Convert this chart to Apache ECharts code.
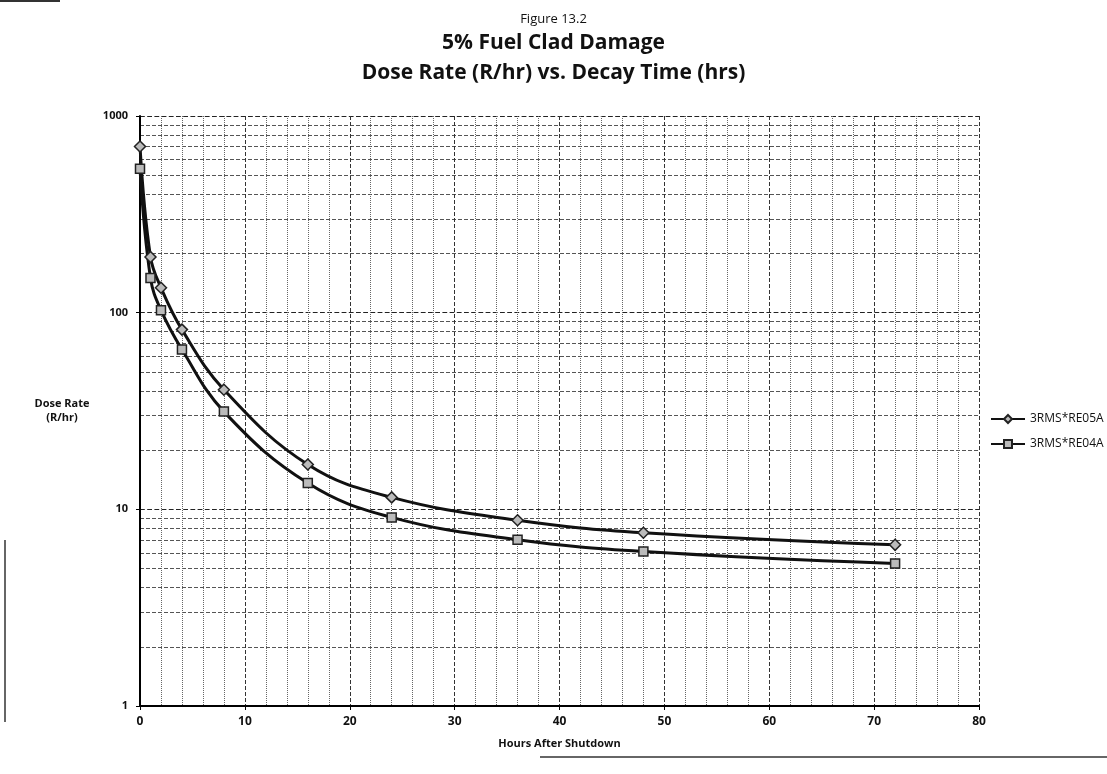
<!DOCTYPE html>
<html>
<head>
<meta charset="utf-8">
<title>Figure 13.2</title>
<script src="https://cdn.jsdelivr.net/npm/echarts@6/dist/echarts.min.js"></script>
<style>
  html, body { margin: 0; padding: 0; background: #fff; }
  #box { width: 1107px; height: 774px; }
</style>
</head>
<body>
<div id="box"></div>
<script>
// hours after shutdown
var hours = [0, 1, 2, 4, 8, 16, 24, 36, 48, 72];
// dose rate (R/hr)
var re05a = [700, 192, 134, 82, 40.6, 16.9, 11.5, 8.8, 7.6, 6.6];
var re04a = [540, 150, 103, 65, 31.4, 13.6, 9.1, 7.0, 6.1, 5.3];
var xTicks = [0, 10, 20, 30, 40, 50, 60, 70, 80];

function pairs(xs, ys) {
  var out = [];
  for (var i = 0; i < xs.length; i++) out.push([xs[i], ys[i]]);
  return out;
}

var font = 'Open Sans';
var chart = echarts.init(document.getElementById('box'));
chart.setOption({
  animation: false,
  backgroundColor: '#fff',
  title: [
    { text: 'Figure 13.2', left: 'center', top: 8,
      textStyle: { fontFamily: font, fontSize: 13, fontWeight: 'normal', color: '#111' } },
    { text: '5% Fuel Clad Damage', left: 'center', top: 28,
      textStyle: { fontFamily: font, fontSize: 21, fontWeight: 'bold', color: '#111' } },
    { text: 'Dose Rate (R/hr) vs. Decay Time (hrs)', left: 'center', top: 58,
      textStyle: { fontFamily: font, fontSize: 21, fontWeight: 'bold', color: '#111' } }
  ],
  legend: {
    orient: 'vertical',
    left: 985, top: 408,
    itemGap: 13,
    itemWidth: 34, itemHeight: 10,
    textStyle: { fontFamily: font, fontSize: 12, color: '#111' },
    data: ['3RMS*RE05A', '3RMS*RE04A']
  },
  grid: { left: 140, right: 128, top: 116, bottom: 68 },
  xAxis: {
    type: 'value',
    min: 0, max: 80, interval: 10,
    name: 'Hours After Shutdown',
    nameLocation: 'middle', nameGap: 32,
    nameTextStyle: { fontFamily: font, fontSize: 11, fontWeight: 'bold', color: '#111' },
    axisLine: { lineStyle: { color: '#000', width: 2 } },
    axisTick: { show: true, length: 4, lineStyle: { color: '#000' } },
    axisLabel: { fontFamily: font, fontSize: 12, fontWeight: 'bold', color: '#111', margin: 10,
      formatter: function (v) { return xTicks.indexOf(v) >= 0 ? String(v) : ''; } },
    splitLine: { show: true, lineStyle: { color: '#333', width: 1, type: 'dashed' } },
    minorTick: { show: true, splitNumber: 5, length: 0 },
    minorSplitLine: { show: true, lineStyle: { color: '#666', width: 1, type: 'dotted' } }
  },
  yAxis: {
    type: 'log',
    logBase: 10,
    min: 1, max: 1000,
    name: 'Dose Rate\n(R/hr)',
    nameLocation: 'middle', nameGap: 78, nameRotate: 0,
    nameTextStyle: { fontFamily: font, fontSize: 11, fontWeight: 'bold', color: '#111',
      lineHeight: 14, align: 'center', padding: [0, 0, 18, 0] },
    axisLine: { show: true, lineStyle: { color: '#000', width: 2 } },
    axisTick: { show: true, length: 4, lineStyle: { color: '#000' } },
    axisLabel: { fontFamily: font, fontSize: 11, fontWeight: 'bold', color: '#111', margin: 12,
      formatter: function (v) { return String(v); } },
    splitLine: { show: true, lineStyle: { color: '#222', width: 1.2, type: 'dashed' } },
    minorTick: { show: true, splitNumber: 9, length: 0 },
    minorSplitLine: { show: true, lineStyle: { color: '#555', width: 1, type: 'dashed' } }
  },
  graphic: [
    { type: 'line', shape: { x1: 5, y1: 540, x2: 5, y2: 722 }, style: { stroke: '#333', lineWidth: 1.5 } },
    { type: 'line', shape: { x1: 540, y1: 757, x2: 1107, y2: 757 }, style: { stroke: '#333', lineWidth: 1.5 } },
    { type: 'line', shape: { x1: 0, y1: 1, x2: 60, y2: 1 }, style: { stroke: '#333', lineWidth: 2 } }
  ],
  series: [
    {
      name: '3RMS*RE05A',
      type: 'line',
      smooth: 0.4,
      symbol: 'diamond',
      symbolSize: 11,
      lineStyle: { color: '#111', width: 3 },
      itemStyle: { color: '#bbb', borderColor: '#222', borderWidth: 1.5 },
      data: pairs(hours, re05a)
    },
    {
      name: '3RMS*RE04A',
      type: 'line',
      smooth: 0.4,
      symbol: 'rect',
      symbolSize: 9,
      lineStyle: { color: '#111', width: 3 },
      itemStyle: { color: '#bbb', borderColor: '#222', borderWidth: 1.5 },
      data: pairs(hours, re04a)
    }
  ]
});
</script>
</body>
</html>
